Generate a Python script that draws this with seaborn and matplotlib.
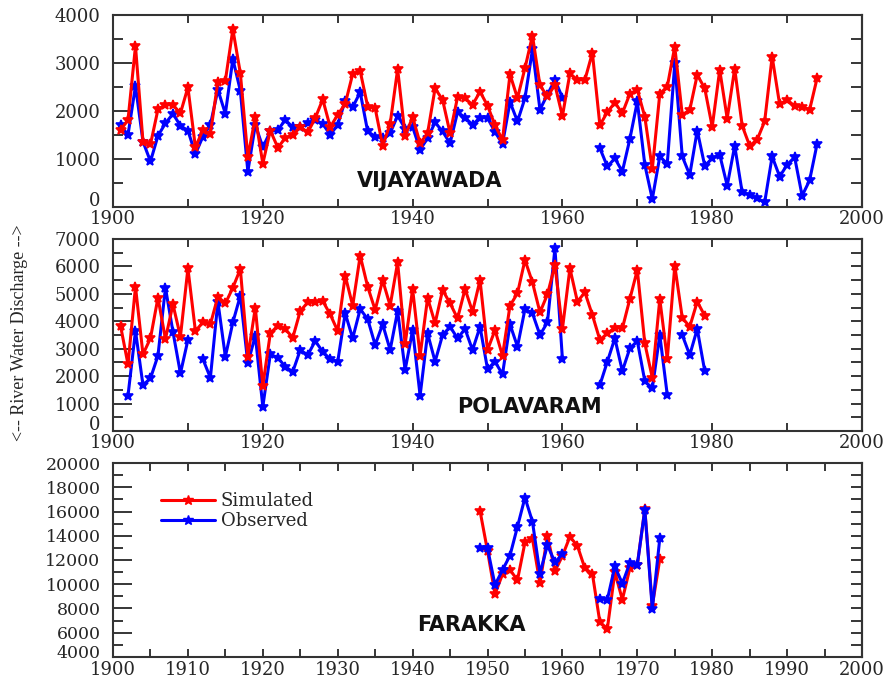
import numpy as np
import pandas as pd
import matplotlib
matplotlib.use("Agg")
import matplotlib.pyplot as plt
import seaborn as sns
from matplotlib.ticker import MultipleLocator
from matplotlib.lines import Line2D
from matplotlib.transforms import ScaledTranslation

nan = np.nan

# ---------------- data ----------------
vij_years = list(range(1901, 1995))
vij_sim = [1600, 1810, 3350, 1360, 1300, 2030, 2125, 2125, 1950, 2490,
           1240, 1600, 1520, 2610, 2630, 3700, 2785, 1035, 1870, 900,
           1590, 1235, 1430, 1500, 1670, 1550, 1850, 2240, 1660, 1920,
           2145, 2770, 2830, 2090, 2055, 1270, 1730, 2870, 1480, 1870,
           1325, 1535, 2470, 2230, 1535, 2285, 2265, 2125, 2400, 2110,
           1700, 1395, 2760, 2265, 2890, 3570, 2530, 2300, 2540, 1890,
           2780, 2645, 2645, 3210, 1700, 1975, 2170, 1950, 2355, 2440,
           1875, 785, 2355, 2505, 3340, 1915, 2020, 2750, 2470, 1665,
           2855, 1840, 2880, 1690, 1270, 1400, 1780, 3130, 2135, 2230,
           2100, 2090, 2020, 2680]
vij_obs = [1700, 1500, 2520, 1360, 945, 1480, 1740, 1940, 1690, 1590,
           1100, 1465, 1710, 2440, 1940, 3080, 2420, 735, 1710, 1240,
           1570, 1600, 1810, 1660, 1660, 1740, 1810, 1730, 1500, 1710,
           2215, 2075, 2390, 1570, 1465, 1430, 1535, 1900, 1630, 1665,
           1190, 1430, 1760, 1570, 1325, 1975, 1860, 1710, 1860, 1850,
           1560, 1310, 2185, 1780, 2265, 3280, 2025, 2340, 2645, 2275,
           nan, nan, nan, nan, 1220, 840, 1010, 735, 1410, 2195,
           875, 160, 1050, 895, 2990, 1050, 665, 1590, 855, 1010,
           1085, 440, 1270, 300, 250, 180, 90, 1050, 630, 875,
           1035, 230, 550, 1310]

pol_years = list(range(1901, 1980))
pol_sim = [3840, 2430, 5260, 2795, 3380, 4860, 3355, 4620, 3440, 5930,
           3645, 3960, 3890, 4900, 4650, 5225, 5905, 2710, 4495, 1650,
           3560, 3840, 3720, 3400, 4375, 4690, 4690, 4740, 4250, 3645,
           5660, 4570, 6390, 5260, 4410, 5500, 4570, 6150, 3160, 5175,
           2745, 4850, 3925, 5140, 4655, 4105, 5175, 4350, 5500, 2950,
           3680, 2745, 4570, 5020, 6235, 5420, 4325, 4980, 6050, 3720,
           5930, 4715, 5055, 4230, 3320, 3560, 3770, 3740, 4810, 5870,
           3195, 1945, 4810, 2625, 6025, 4130, 3800, 4715, 4205]
pol_obs = [nan, 1290, 3645, 1675, 1920, 2745, 5225, 3620, 2100, 3320,
           nan, 2620, 1940, 4715, 2710, 3960, 4935, 2470, 3475, 890,
           2795, 2675, 2345, 2160, 2955, 2770, 3280, 2890, 2620, 2530,
           4290, 3380, 4445, 4080, 3135, 3890, 2955, 4375, 2225, 3680,
           1290, 3560, 2530, 3500, 3800, 3380, 3720, 2950, 3800, 2260,
           2530, 2065, 3890, 3075, 4445, 4290, 3500, 3960, 6660, 2625,
           nan, nan, nan, nan, 1675, 2530, 3380, 2185, 3015, 3280,
           1820, 1555, 3500, 1310, nan, 3500, 2770, 3720, 2185]

far_years = list(range(1949, 1974))
far_sim = [16050, 12750, 9180, 10830, 11175, 10350, 13450, 13750, 10075, 14020,
           11080, 12340, 13925, 13170, 11310, 10870, 6870, 6340, 11000, 8730,
           11310, 11600, 16200, 8220, 12070]
far_obs = [12960, 12960, 9940, 11175, 12370, 14750, 17150, 15160, 10870, 13235,
           11800, 12500, nan, nan, nan, nan, 8800, 8740, 11480, 10050,
           11750, 11590, 16150, 7950, 13790]

station_names = ["VIJAYAWADA", "POLAVARAM", "FARAKKA"]
series_labels = ["Simulated", "Observed"]
ylabel_text = "<-- River Water Discharge -->"

RED = "#ff0000"
BLUE = "#0000ff"

# ---------------- style ----------------
sns.set_style("ticks")
plt.rcParams["font.family"] = ["DejaVu Serif", "DejaVu Sans"]

fig = plt.figure(figsize=(8.92, 6.78), dpi=100)
L, W = 0.1267, 0.8397
ax1 = fig.add_axes([L, 0.695, W, 0.283])
ax2 = fig.add_axes([L, 0.3643, W, 0.2832])
ax3 = fig.add_axes([L, 0.031, W, 0.2861])

MS = 7.5
LW = 2.2


def draw(ax, years, values, color):
    df = pd.DataFrame({"year": years, "value": values})
    df["seg"] = df["value"].isna().cumsum()
    df = df.dropna()
    for _, g in df.groupby("seg"):
        sns.lineplot(data=g, x="year", y="value", ax=ax, color=color,
                     linewidth=LW, marker="*", markersize=MS,
                     markeredgecolor=color, markeredgewidth=1.2,
                     legend=False, sort=False)


def style(ax, ylo, yhi, ymaj, ymin, xmaj, xmin, ysize, xpad):
    ax.set_xlim(1900, 2000)
    ax.set_ylim(ylo, yhi)
    ax.xaxis.set_major_locator(MultipleLocator(xmaj))
    ax.xaxis.set_minor_locator(MultipleLocator(xmin))
    ax.yaxis.set_major_locator(MultipleLocator(ymaj))
    ax.yaxis.set_minor_locator(MultipleLocator(ymin))
    ax.tick_params(axis="x", which="both", direction="in", top=True,
                   bottom=True, length=6, width=1.3, pad=xpad, labelsize=13)
    ax.tick_params(axis="y", which="major", direction="in", left=True,
                   right=False, length=14, width=1.3, pad=9, labelsize=ysize)
    ax.tick_params(axis="y", which="minor", direction="in", left=True,
                   right=False, length=7, width=1.3)
    sec = ax.secondary_yaxis("right")
    sec.yaxis.set_major_locator(MultipleLocator(ymin))
    sec.tick_params(direction="in", length=8, width=1.3, labelright=False)
    sec.spines["right"].set_linewidth(1.5)
    sec.spines["right"].set_color("#333333")
    for s in ax.spines.values():
        s.set_visible(True)
        s.set_linewidth(1.5)
        s.set_color("#333333")
    ax.set_xlabel("")
    ax.set_ylabel("")


draw(ax1, vij_years, vij_obs, BLUE)
draw(ax1, vij_years, vij_sim, RED)
draw(ax2, pol_years, pol_obs, BLUE)
draw(ax2, pol_years, pol_sim, RED)
draw(ax3, far_years, far_sim, RED)
draw(ax3, far_years, far_obs, BLUE)

limits = [(0, 4000, 1000, 500, 20, 10, 13, 2),
          (0, 7000, 1000, 500, 20, 10, 13, 2),
          (4000, 20000, 2000, 1000, 10, 5, 12.5, 3)]
lifts_px = [8, 8, 5]
for ax, lim in zip([ax1, ax2, ax3], limits):
    style(ax, *lim)

# lift the lowest y label a little so it clears the year labels
fig.canvas.draw()
for ax, lim, lp in zip([ax1, ax2, ax3], limits, lifts_px):
    lift = ScaledTranslation(0, lp / 100, fig.dpi_scale_trans)
    for t in ax.yaxis.get_major_ticks():
        if abs(t.get_loc() - lim[0]) < 1e-6:
            t.label1.set_transform(t.label1.get_transform() + lift)

label_kw = dict(family="DejaVu Sans", fontweight="bold", fontsize=15,
                ha="center", va="center", color="#111111")
ax1.text(1942.3, 540, station_names[0], **label_kw)
ax2.text(1955.6, 880, station_names[1], **label_kw)
ax3.text(1947.9, 6640, station_names[2], **label_kw)

handles = [Line2D([], [], color=RED, linewidth=LW, marker="*", markersize=MS),
           Line2D([], [], color=BLUE, linewidth=LW, marker="*", markersize=MS)]
ax3.legend(handles, series_labels, loc="upper left",
           bbox_to_anchor=(0.064, 0.85), frameon=False,
           prop={"family": "DejaVu Serif", "size": 13},
           handlelength=3.0, handletextpad=0.3, labelspacing=0.1,
           borderaxespad=0, borderpad=0)

fig.text(0.022, 0.509, ylabel_text, rotation=90, ha="center", va="center",
         family="Liberation Serif", fontsize=13)

fig.savefig("out.png", dpi=100)
